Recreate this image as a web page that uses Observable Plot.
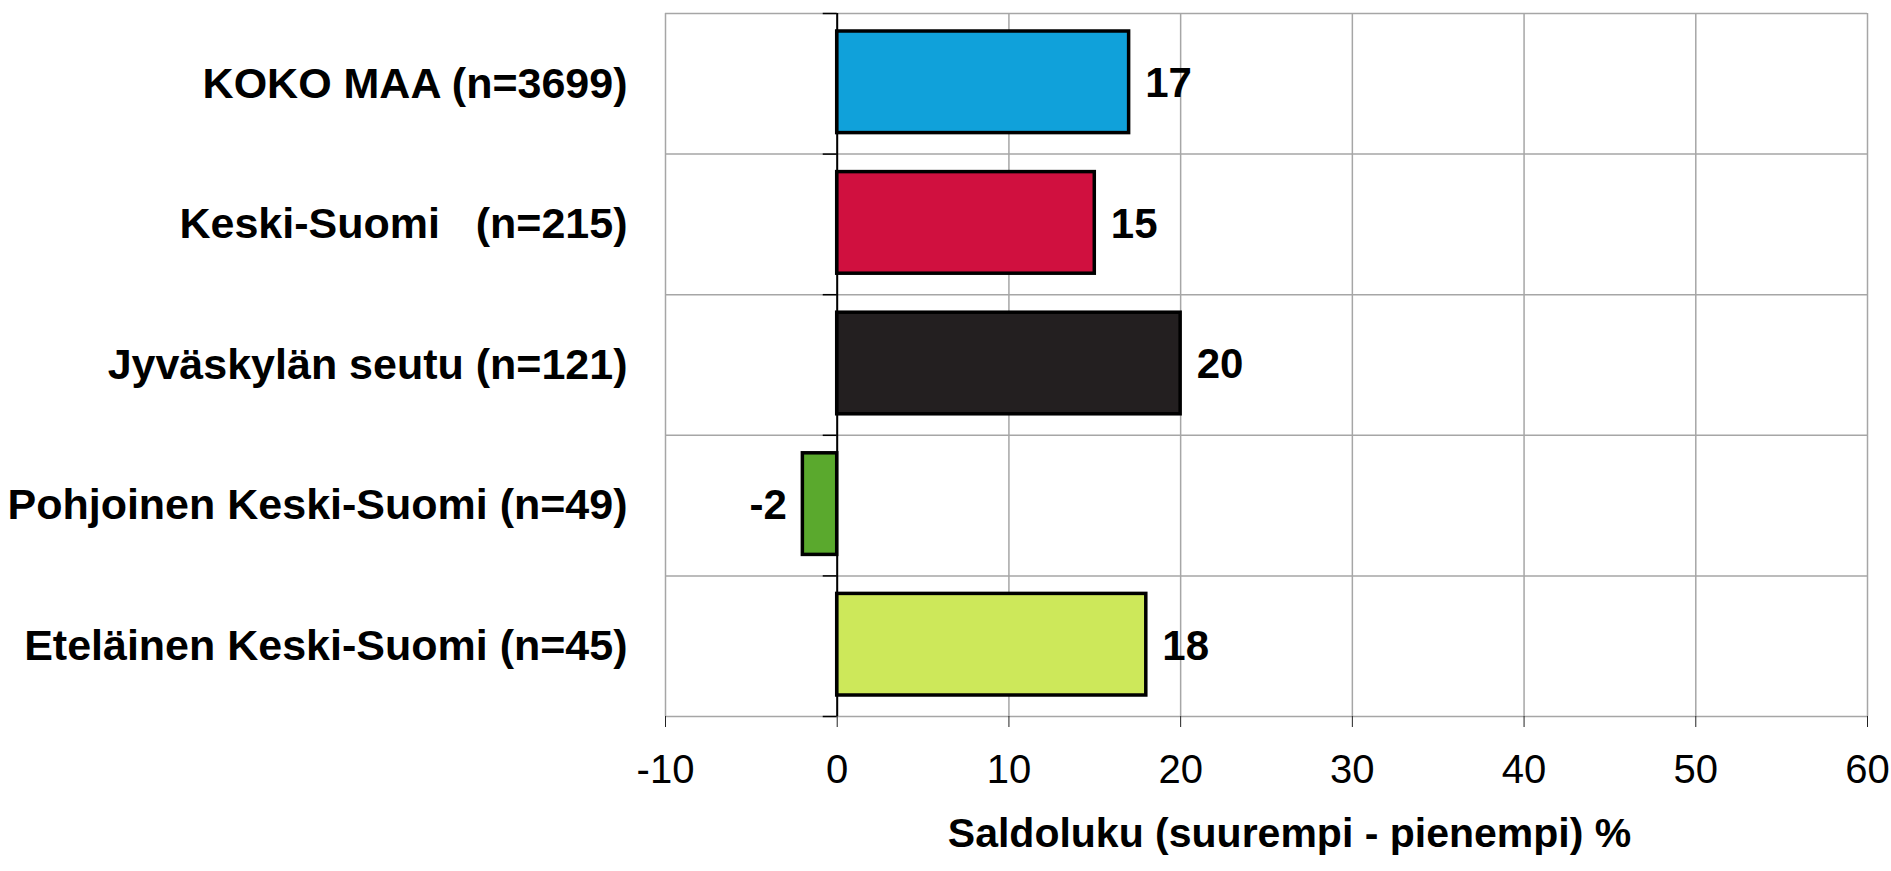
<!DOCTYPE html>
<html>
<head>
<meta charset="utf-8">
<script src="https://cdn.jsdelivr.net/npm/d3@7"></script>
<script src="https://cdn.jsdelivr.net/npm/@observablehq/plot@0.6"></script>
<style>
  html, body { margin: 0; padding: 0; background: #fff; }
  svg { display: block; }
</style>
</head>
<body>
<div id="chart"></div>
<script>
const categories = [
  "KOKO MAA (n=3699)",
  "Keski-Suomi\u00a0\u00a0\u00a0(n=215)",
  "Jyväskylän seutu (n=121)",
  "Pohjoinen Keski-Suomi (n=49)",
  "Eteläinen Keski-Suomi (n=45)"
];
const values = [17, 15, 20, -2, 18];
const colors = ["#10a1da", "#d0103f", "#231f20", "#5aa92d", "#cde85a"];
const xTicks = [-10, 0, 10, 20, 30, 40, 50, 60];
const xTitle = "Saldoluku (suurempi - pienempi) %";

const data = categories.map((c, i) => ({i, name: c, value: values[i], color: colors[i]}));
const bounds = d3.range(categories.length + 1);
const grid = "#a6a6a6";
const font = "'Liberation Sans', Arial, sans-serif";

const labelOpts = {
  x: "value", y: d => d.i + 0.5,
  text: d => String(d.value),
  fontSize: 42, fontWeight: "bold", fill: "#000"
};

const chart = Plot.plot({
  width: 1891,
  height: 871,
  marginLeft: 665,
  marginRight: 24,
  marginTop: 13,
  marginBottom: 155,
  style: {fontFamily: font, background: "#fff", color: "#000"},
  x: {domain: [-10, 60]},
  y: {domain: [0, categories.length], reverse: true},
  color: {type: "identity"},
  marks: [
    Plot.ruleX(xTicks, {stroke: grid, strokeWidth: 1.5}),
    Plot.ruleY(bounds, {stroke: grid, strokeWidth: 1.5}),
    Plot.rect(data, {
      x1: 0, x2: "value",
      y1: "i", y2: d => d.i + 1,
      insetTop: 18, insetBottom: 21,
      fill: "color", stroke: "#000", strokeWidth: 3.5
    }),
    Plot.ruleX([0], {stroke: "#000", strokeWidth: 2}),
    Plot.ruleY(bounds, {x1: 0, x2: 0, insetLeft: -14, stroke: "#000", strokeWidth: 1.5}),
    Plot.text(data.filter(d => d.value >= 0), {...labelOpts, textAnchor: "start", dx: 16}),
    Plot.text(data.filter(d => d.value < 0), {...labelOpts, textAnchor: "end", dx: -16}),
    Plot.axisX({
      ticks: xTicks, tickFormat: d => String(d),
      tickSize: 11, tickPadding: 27, stroke: "#222",
      fontSize: 40, label: null
    }),
    Plot.axisY({
      ticks: data.map(d => d.i + 0.5),
      tickFormat: (d, k) => categories[k],
      tickSize: 0, tickPadding: 38,
      fontSize: 43, fontWeight: "bold", label: null
    }),
    Plot.text([xTitle], {
      frameAnchor: "bottom", dy: 130, dx: 23,
      fontSize: 41, fontWeight: "bold", fill: "#000",
      letterSpacing: "1px"
    })
  ]
});
document.getElementById("chart").append(chart);
</script>
</body>
</html>
